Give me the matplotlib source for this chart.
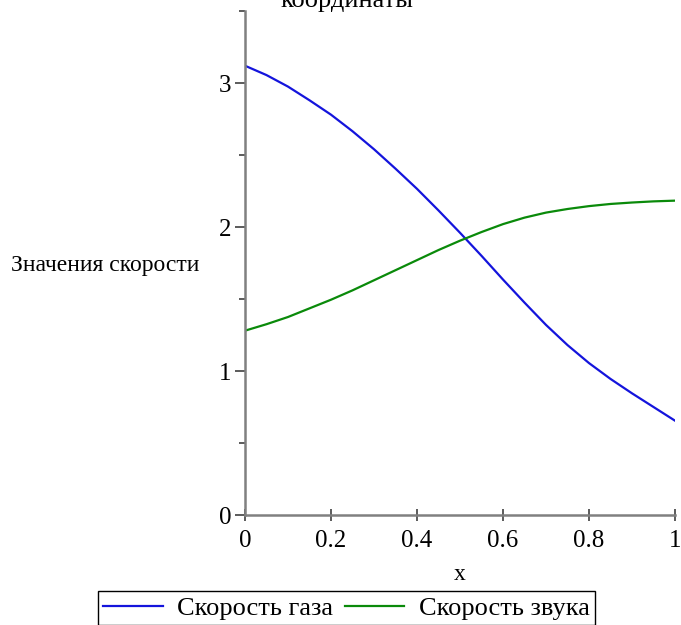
import numpy as np
import matplotlib.pyplot as plt
from matplotlib.ticker import MultipleLocator

plt.rcParams['font.family'] = ['Liberation Serif', 'DejaVu Serif']

# значения, снятые по сетке x
x = [0.0, 0.05, 0.1, 0.15, 0.2, 0.25, 0.3, 0.35, 0.4, 0.45, 0.5,
     0.55, 0.6, 0.65, 0.7, 0.75, 0.8, 0.85, 0.9, 0.95, 1.0]
v_gas = [3.12, 3.055, 2.975, 2.88, 2.78, 2.665, 2.54, 2.405, 2.265, 2.115, 1.96,
         1.80, 1.635, 1.475, 1.32, 1.18, 1.055, 0.945, 0.845, 0.75, 0.655]
v_sound = [1.28, 1.325, 1.375, 1.435, 1.495, 1.56, 1.63, 1.70, 1.77, 1.84, 1.905,
           1.965, 2.02, 2.065, 2.10, 2.125, 2.145, 2.16, 2.17, 2.178, 2.183]
labels = ['Скорость газа', 'Скорость звука']

W, H = 681, 625
fig = plt.figure(figsize=(W / 100, H / 100), dpi=100)
ax = fig.add_axes([245 / W, (H - 515) / H, 430 / W, 504 / H])

ax.plot(x, v_gas, color='#1414dc', lw=1.6, label=labels[0])
ax.plot(x, v_sound, color='#0a8a0a', lw=1.6, label=labels[1])

ax.set_xlim(0, 1)
ax.set_ylim(0, 3.5)
ax.xaxis.set_major_locator(MultipleLocator(0.2))
ax.yaxis.set_major_locator(MultipleLocator(1))
ax.yaxis.set_minor_locator(MultipleLocator(0.5))
ax.xaxis.set_major_formatter(plt.FuncFormatter(lambda v, p: f'{v:g}'))

for s in ['top', 'right']:
    ax.spines[s].set_visible(False)
for s in ['left', 'bottom']:
    ax.spines[s].set_color('#808080')
    ax.spines[s].set_linewidth(1.8)

ax.tick_params(axis='x', direction='inout', length=9, width=1.2, color='#404040',
               labelsize=18, pad=6)
ax.tick_params(axis='y', which='major', direction='out', length=7, width=1.2,
               color='#404040', labelsize=18, pad=3)
ax.tick_params(axis='y', which='minor', direction='out', length=4, width=1.2,
               color='#404040')

ax.set_xlabel('x', fontsize=17, labelpad=9)
ax.set_ylabel('Значения скорости', fontsize=17, rotation=0, ha='right', va='center')
ax.yaxis.set_label_coords(-0.105, 0.495)

# заголовок уходит за верхний край
fig.text(347 / W, (H - 7) / H, 'координаты', fontsize=19, ha='center',
         va='baseline')

fig.legend(loc='upper left', bbox_to_anchor=(98 / W, (H - 591) / H), ncol=2,
           fontsize=19, frameon=True, fancybox=False, edgecolor='black',
           framealpha=1, handlelength=2.25, borderpad=0.2, columnspacing=0.45,
           handletextpad=0.55, borderaxespad=0)

fig.savefig('out.png', dpi=100)
